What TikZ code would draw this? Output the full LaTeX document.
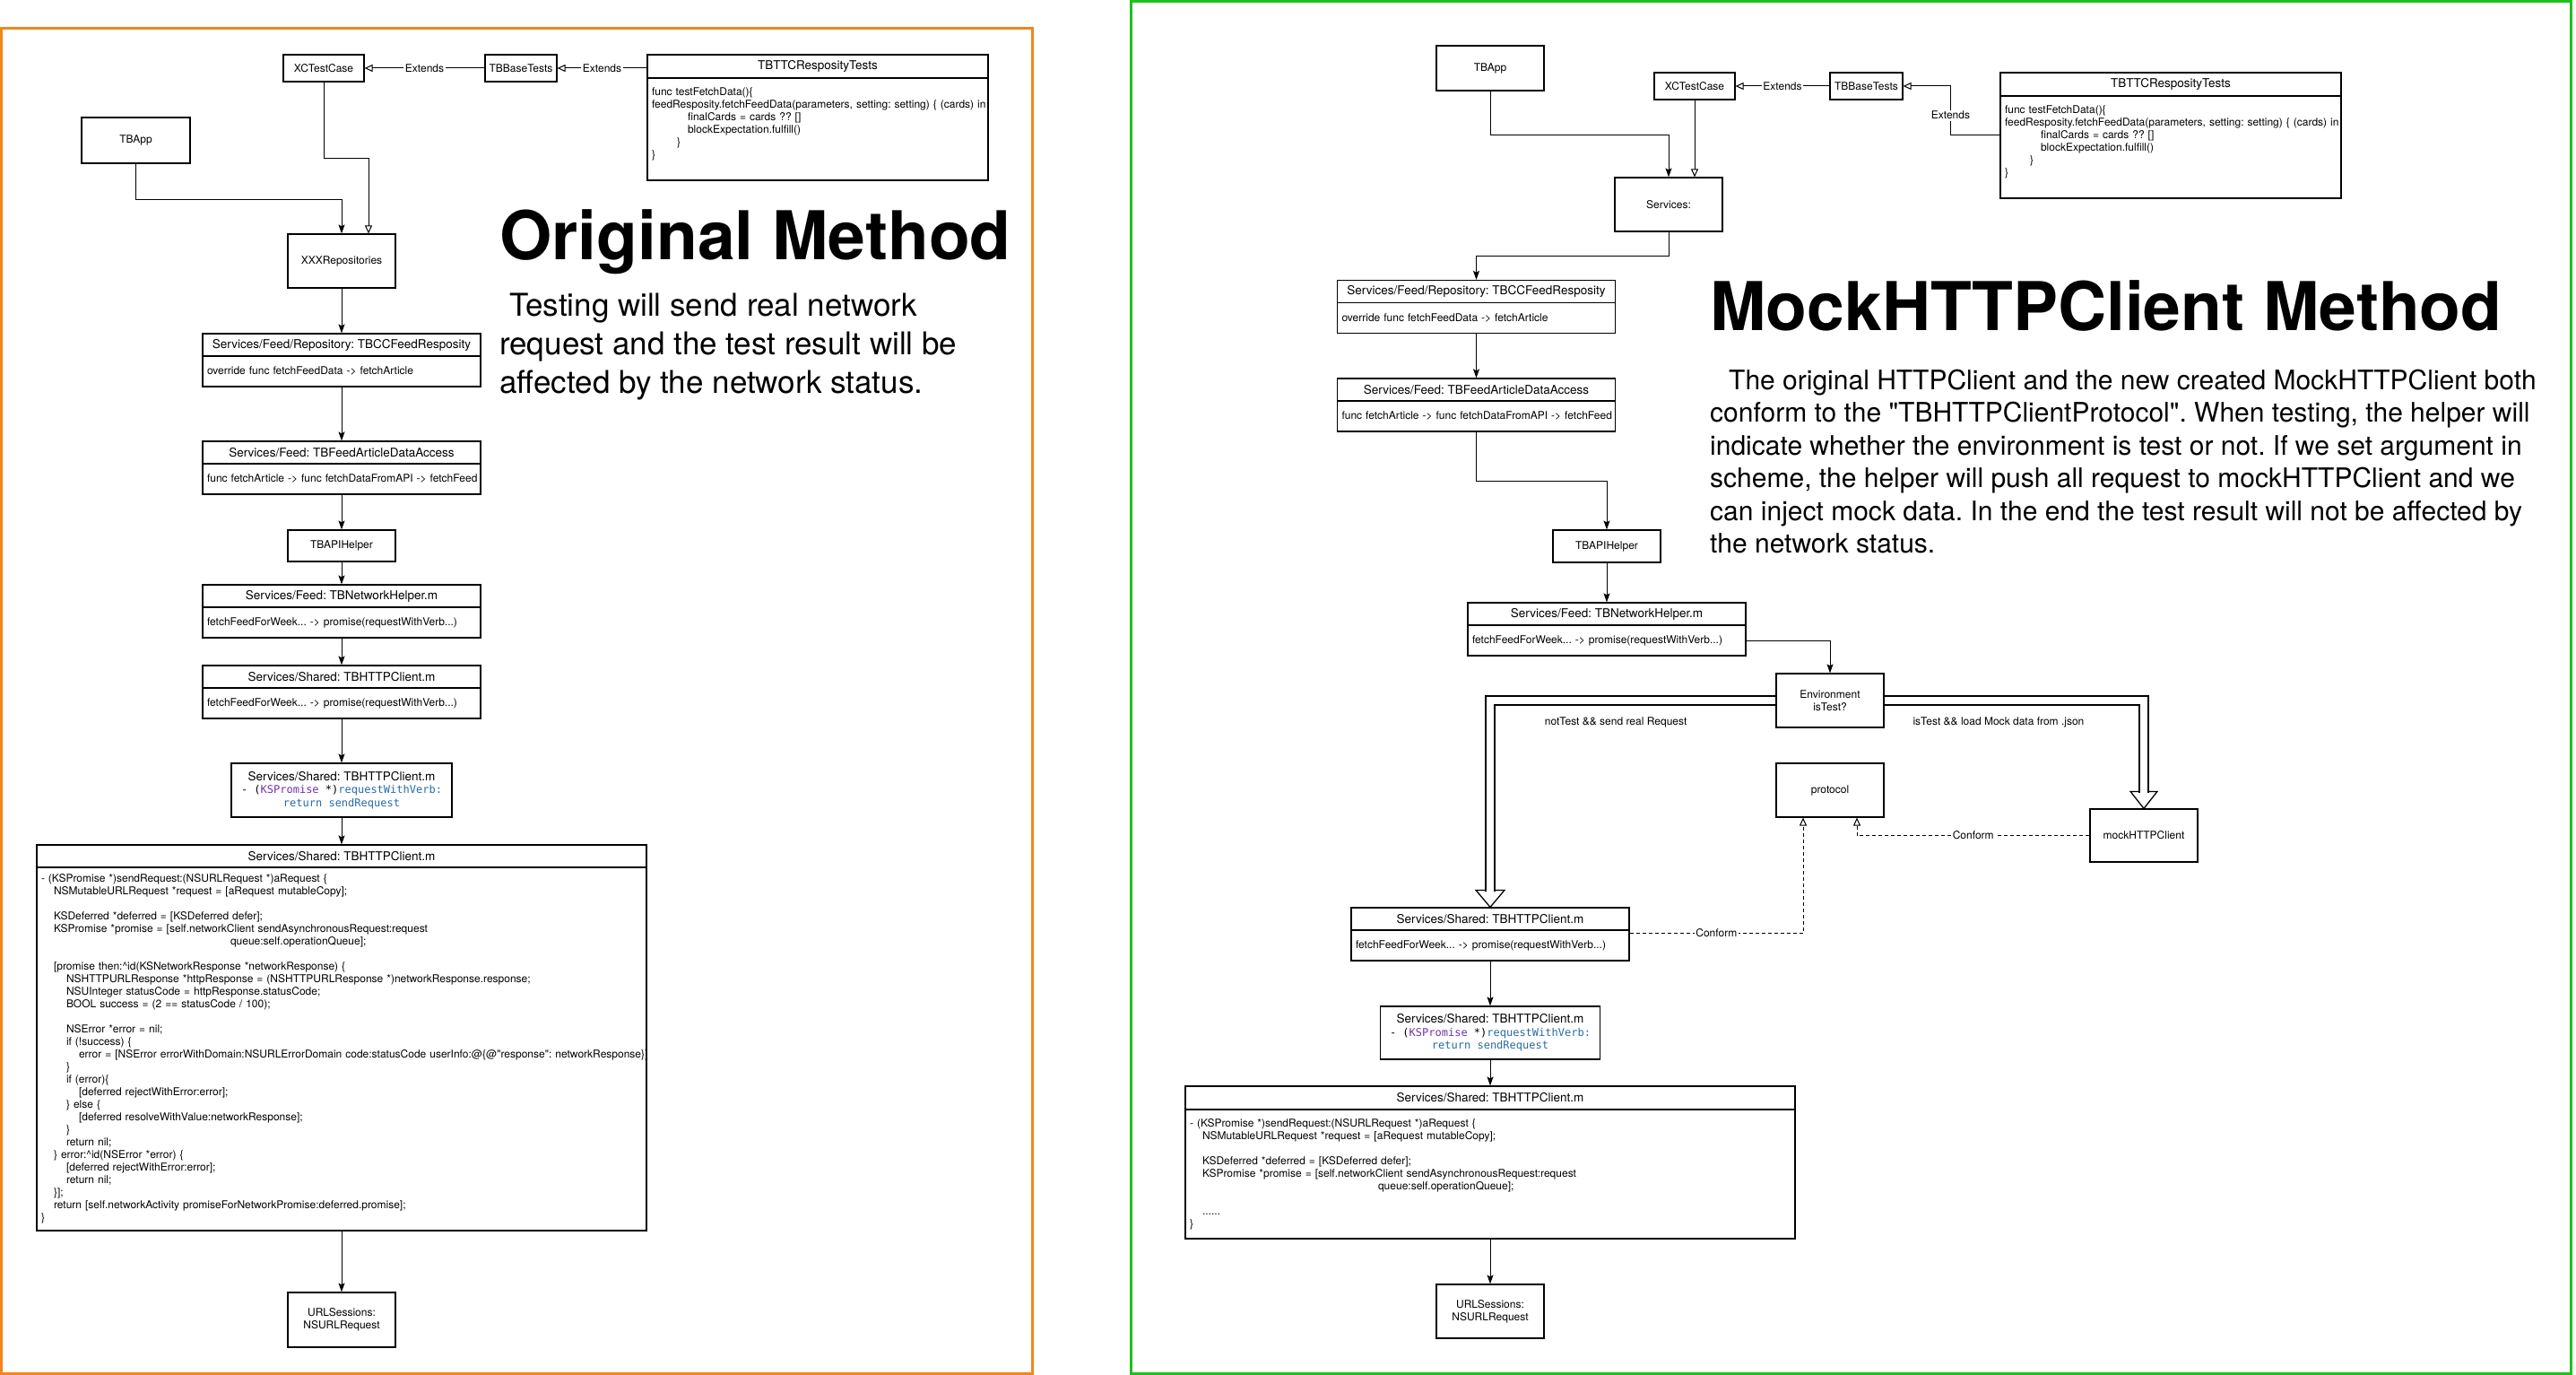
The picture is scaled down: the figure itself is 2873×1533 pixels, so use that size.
\documentclass[tikz,border=0pt]{standalone}
\usepackage{fontspec}
\setmainfont{TeX Gyre Heros}[Ligatures=TeXOff]
\newfontfamily\codefont{DejaVu Sans Mono}
\usetikzlibrary{arrows.meta}
\definecolor{frameorange}{RGB}{240,134,30}
\definecolor{framegreen}{RGB}{30,192,30}
\definecolor{kwpurple}{RGB}{110,50,170}
\definecolor{kwblue}{RGB}{40,105,165}
\newlength\codeind
\setlength\codeind{14pt}
\frenchspacing

\begin{document}
\begin{tikzpicture}[x=1pt,y=-1pt,
  >={Stealth[length=10pt,width=7pt,inset=2pt]},
  every node/.style={font=\fontsize{12}{14}\selectfont},
  unitbox/.style={draw,line width=1.2pt,align=center,minimum width=120pt,minimum height=60pt},
  clshead/.style={draw,line width=1.2pt,minimum width=310pt,minimum height=25pt,inner sep=0pt,font=\fontsize{13.5}{16}\selectfont},
  clsbody/.style={draw,line width=1.2pt,minimum height=34pt,text width=300pt,inner xsep=5pt,inner ysep=0pt,align=left},
  lbl/.style={fill=white,inner sep=1.5pt},
  arr/.style={->,line width=1pt},
  ext/.style={-{Triangle[open,length=9pt,width=8pt]},line width=1pt},
  conf/.style={ext,dash pattern=on 4pt off 3pt},
  hollow/.style={double,double distance=8.5pt,line width=1.3pt,shorten >=17pt},
  headtri/.style={draw,fill=white,line width=1.3pt,line join=miter}]
\useasboundingbox (0,0) rectangle (2873,1533);

\draw[frameorange,line width=3pt] (1.5,31.5) rectangle (1151,1531.5);
\draw[framegreen,line width=3pt] (1261.5,1.5) rectangle (2867,1531.5);

% original method
\path
(361,76) node[unitbox,minimum width=90pt,minimum height=30pt] (lxct) {XCTestCase}
(581,76) node[unitbox,minimum width=80pt,minimum height=30pt] (lbase) {TBBaseTests}
(912,74) node[clshead,minimum width=380pt,minimum height=26pt] (ltestHead) {TBTTCResposityTests}
(912,144) node[clsbody,text width=370pt,minimum height=114pt] (ltestBody) {func testFetchData()\{\\\mbox{feedResposity.fetchFeedData(parameters, setting: setting) \{ (cards) in}\\\hspace*{40pt}finalCards = cards ?? []\\\hspace*{40pt}blockExpectation.fulfill()\\\hspace*{28pt}\}\\\}\\\mbox{}}
(151.5,156.5) node[unitbox,minimum width=121pt,minimum height=51pt] (lapp) {TBApp}
(381,291) node[unitbox] (lrepo) {XXXRepositories}
(381,384.5) node[clshead] (lfeedHead) {Services/Feed/Repository: TBCCFeedResposity}
(381,414) node[clsbody] (lfeedBody) {override func fetchFeedData -> fetchArticle}
(381,504.5) node[clshead] (laccessHead) {Services/Feed: TBFeedArticleDataAccess}
(381,534) node[clsbody] (laccessBody) {\mbox{func fetchArticle -> func fetchDataFromAPI -> fetchFeed}}
(381,608.5) node[unitbox,minimum height=35pt] (lapi) {TBAPIHelper}
(381,664.5) node[clshead] (lnetHead) {Services/Feed: TBNetworkHelper.m}
(381,694) node[clsbody] (lnetBody) {fetchFeedForWeek... -> promise(requestWithVerb...)}
(381,754.5) node[clshead] (lclientHead) {Services/Shared: TBHTTPClient.m}
(381,784) node[clsbody] (lclientBody) {fetchFeedForWeek... -> promise(requestWithVerb...)}
(381,881) node[unitbox,minimum width=246pt,font=\fontsize{12}{14.5}\selectfont] (lverb) {{\fontsize{13.5}{14.5}\selectfont Services/Shared: TBHTTPClient.m}\\{\codefont - (\textcolor{kwpurple}{KSPromise} *)\textcolor{kwblue}{requestWithVerb:}}\\{\codefont\color{kwblue}return sendRequest}}
(381,954.5) node[clshead,minimum width=680pt] (lsendHead) {Services/Shared: TBHTTPClient.m}
(381,1169.5) node[clsbody,text width=670pt,minimum height=405pt] (lsendBody) {- (KSPromise *)sendRequest:(NSURLRequest *)aRequest \{\\
\hspace*{\codeind}NSMutableURLRequest *request = [aRequest mutableCopy];\\
\mbox{}\\
\hspace*{\codeind}KSDeferred *deferred = [KSDeferred defer];\\
\hspace*{\codeind}KSPromise *promise = [self.networkClient sendAsynchronousRequest:request\\
\hspace*{211pt}queue:self.operationQueue];\\
\mbox{}\\
\hspace*{\codeind}[promise then:\textasciicircum id(KSNetworkResponse *networkResponse) \{\\
\hspace*{2\codeind}NSHTTPURLResponse *httpResponse = (NSHTTPURLResponse *)networkResponse.response;\\
\hspace*{2\codeind}NSUInteger statusCode = httpResponse.statusCode;\\
\hspace*{2\codeind}BOOL success = (2 == statusCode / 100);\\
\mbox{}\\
\hspace*{2\codeind}NSError *error = nil;\\
\hspace*{2\codeind}if (!success) \{\\
\hspace*{3\codeind}\mbox{error = [NSError errorWithDomain:NSURLErrorDomain code:statusCode userInfo:@\{@"response": networkResponse\}]}\\
\hspace*{2\codeind}\}\\
\hspace*{2\codeind}if (error)\{\\
\hspace*{3\codeind}[deferred rejectWithError:error];\\
\hspace*{2\codeind}\} else \{\\
\hspace*{3\codeind}[deferred resolveWithValue:networkResponse];\\
\hspace*{2\codeind}\}\\
\hspace*{2\codeind}return nil;\\
\hspace*{\codeind}\} error:\textasciicircum id(NSError *error) \{\\
\hspace*{2\codeind}[deferred rejectWithError:error];\\
\hspace*{2\codeind}return nil;\\
\hspace*{\codeind}\}];\\
\hspace*{\codeind}return [self.networkActivity promiseForNetworkPromise:deferred.promise];\\
\}}
(381,1471.5) node[unitbox,minimum height=61pt] (lurl) {URLSessions:\\NSURLRequest}
(557,289) node[anchor=base west,inner sep=0pt,font=\fontsize{75}{90}\selectfont\bfseries] (ltitle) {Original Method}
(557,326.5) node[anchor=north west,inner sep=0pt,align=left,font=\fontsize{35}{43}\selectfont] (lnote) {\hspace*{11pt}Testing will send real network\\request and the test result will be\\affected by the network status.};

\draw[ext] (lbase) -- node[lbl] {Extends} (lxct);
\draw[ext] (ltestHead.west |- lbase) -- node[lbl] {Extends} (lbase);
\draw[arr] (lapp.south) -- ++(0,40) -| (lrepo.north);
\draw[ext] (lxct.south) -- ++(0,85) -| ([xshift=30pt]lrepo.north);
\draw[arr] (lrepo) -- (lfeedHead);
\draw[arr] (lfeedBody) -- (laccessHead);
\draw[arr] (laccessBody) -- (lapi);
\draw[arr] (lapi) -- (lnetHead);
\draw[arr] (lnetBody) -- (lclientHead);
\draw[arr] (lclientBody) -- (lverb);
\draw[arr] (lverb) -- (lsendHead);
\draw[arr] (lsendBody) -- (lurl);

% mock http client method
\path
(1662,76) node[unitbox,minimum height=50pt] (rapp) {TBApp}
(1890,96) node[unitbox,minimum width=90pt,minimum height=30pt] (rxct) {XCTestCase}
(2081.5,96) node[unitbox,minimum width=81pt,minimum height=30pt] (rbase) {TBBaseTests}
(2421,94) node[clshead,minimum width=380pt,minimum height=26pt] (rtestHead) {TBTTCResposityTests}
(2421,164) node[clsbody,text width=370pt,minimum height=114pt] (rtestBody) {func testFetchData()\{\\\mbox{feedResposity.fetchFeedData(parameters, setting: setting) \{ (cards) in}\\\hspace*{40pt}finalCards = cards ?? []\\\hspace*{40pt}blockExpectation.fulfill()\\\hspace*{28pt}\}\\\}\\\mbox{}}
(1861,228) node[unitbox] (rsvc) {Services:}
(1646.5,325) node[clshead] (rfeedHead) {Services/Feed/Repository: TBCCFeedResposity}
(1646.5,354.5) node[clsbody] (rfeedBody) {override func fetchFeedData -> fetchArticle}
(1646.5,434.5) node[clshead] (raccessHead) {Services/Feed: TBFeedArticleDataAccess}
(1646.5,464) node[clsbody] (raccessBody) {\mbox{func fetchArticle -> func fetchDataFromAPI -> fetchFeed}}
(1792,609) node[unitbox,minimum height=36pt] (rapi) {TBAPIHelper}
(1792,684.5) node[clshead] (rnetHead) {Services/Feed: TBNetworkHelper.m}
(1792,714) node[clsbody] (rnetBody) {fetchFeedForWeek... -> promise(requestWithVerb...)}
(2041,781) node[unitbox] (renv) {Environment\\isTest?}
(2041,881) node[unitbox] (rproto) {protocol}
(2391,931.5) node[unitbox,minimum height=59pt] (rmock) {mockHTTPClient}
(1662,1024.5) node[clshead] (rclientHead) {Services/Shared: TBHTTPClient.m}
(1662,1054) node[clsbody] (rclientBody) {fetchFeedForWeek... -> promise(requestWithVerb...)}
(1662,1151.5) node[unitbox,minimum width=245pt,minimum height=59pt,font=\fontsize{12}{14.5}\selectfont] (rverb) {{\fontsize{13.5}{14.5}\selectfont Services/Shared: TBHTTPClient.m}\\{\codefont - (\textcolor{kwpurple}{KSPromise} *)\textcolor{kwblue}{requestWithVerb:}}\\{\codefont\color{kwblue}return sendRequest}}
(1662,1224) node[clshead,minimum width=680pt,minimum height=26pt] (rsendHead) {Services/Shared: TBHTTPClient.m}
(1662,1309) node[clsbody,text width=670pt,minimum height=144pt] (rsendBody) {- (KSPromise *)sendRequest:(NSURLRequest *)aRequest \{\\
\hspace*{\codeind}NSMutableURLRequest *request = [aRequest mutableCopy];\\
\mbox{}\\
\hspace*{\codeind}KSDeferred *deferred = [KSDeferred defer];\\
\hspace*{\codeind}KSPromise *promise = [self.networkClient sendAsynchronousRequest:request\\
\hspace*{210pt}queue:self.operationQueue];\\
\mbox{}\\
\hspace*{\codeind}......\\
\}}
(1662,1462) node[unitbox] (rurl) {URLSessions:\\NSURLRequest}
(1907,368) node[anchor=base west,inner sep=0pt,font=\fontsize{75}{90}\selectfont\bfseries] (rtitle) {MockHTTPClient Method}
(1907,411.5) node[anchor=north west,inner sep=0pt,align=left,font=\fontsize{30}{36.5}\selectfont] (rnote) {\hspace*{21pt}The original HTTPClient and the new created MockHTTPClient both\\conform to the "TBHTTPClientProtocol". When testing, the helper will\\indicate whether the environment is test or not. If we set argument in\\scheme, the helper will push all request to mockHTTPClient and we\\can inject mock data. In the end the test result will not be affected by\\the network status.};

\draw[ext] (rbase) -- node[lbl] {Extends} (rxct);
\draw[ext] ([yshift=-44pt]rtestBody.north west) -- ++(-55,0) |- node[lbl,pos=0.2] {Extends} (rbase);
\draw[arr] (rapp.south) -- ++(0,49) -| (rsvc.north);
\draw[ext] (rxct.south) -- (rxct.south |- rsvc.north);
\draw[arr] (rsvc.south) -- ++(0,27) -| (rfeedHead.north);
\draw[arr] (rfeedBody) -- (raccessHead);
\draw[arr] (raccessBody.south) -- ++(0,55) -| (rapi.north);
\draw[arr] (rapi) -- (rnetHead);
\draw[arr] (rnetBody.east) -| (renv.north);
\draw[headtri] (rclientHead.north) -- ++(-16,-19) -- ++(32,0) -- cycle;
\draw[headtri] (rmock.north) -- ++(-15,-19) -- ++(30,0) -- cycle;
\draw[hollow] (renv.west) -| node[pos=0.28,below=15pt] {notTest \&\& send real Request} (rclientHead.north);
\draw[hollow] (renv.east) -| node[pos=0.22,below=15pt] {isTest \&\& load Mock data from .json} (rmock.north);
\draw[conf] (rmock.west) -| node[lbl,pos=0.25] {Conform} ([xshift=30pt]rproto.south);
\draw[conf] ([yshift=-4pt]rclientBody.north east) -| node[lbl,pos=0.25] {Conform} ([xshift=-30pt]rproto.south);
\draw[arr] (rclientBody) -- (rverb);
\draw[arr] (rverb) -- (rsendHead);
\draw[arr] (rsendBody) -- (rurl);
\end{tikzpicture}
\end{document}
